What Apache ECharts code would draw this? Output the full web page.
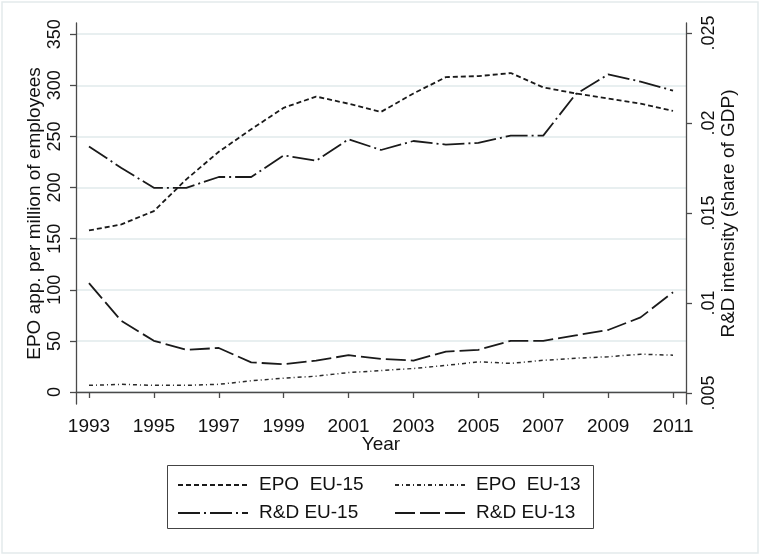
<!DOCTYPE html>
<html>
<head>
<meta charset="utf-8">
<script src="https://cdn.jsdelivr.net/npm/echarts@6/dist/echarts.min.js"></script>
<style>
  html, body { margin: 0; padding: 0; background: #fff; }
  #chart { width: 760px; height: 554px; }
</style>
</head>
<body>
<div id="chart"></div>
<script>
// data
const years = [1993, 1994, 1995, 1996, 1997, 1998, 1999, 2000, 2001, 2002,
               2003, 2004, 2005, 2006, 2007, 2008, 2009, 2010, 2011];
const epoEU15 = [158, 164, 177, 208, 235, 257, 278, 289, 282, 274,
                 292, 308, 309, 312, 298, 292, 287, 282, 275];
const epoEU13 = [6.5, 7.5, 6.5, 6.5, 7.5, 11, 13.5, 15.5, 19, 21,
                 23, 26, 29.5, 28, 31, 33, 34.5, 37, 36];
const rdEU15 = [0.0187, 0.0175, 0.0164, 0.0164, 0.0170, 0.0170, 0.0182, 0.0179, 0.0191, 0.0185,
                0.0190, 0.0188, 0.0189, 0.0193, 0.0193, 0.0216, 0.0227, 0.0223, 0.0218];
const rdEU13 = [0.0111, 0.0090, 0.0079, 0.0074, 0.0075, 0.0067, 0.0066, 0.0068, 0.0071, 0.0069,
                0.0068, 0.0073, 0.0074, 0.0079, 0.0079, 0.0082, 0.0085, 0.0092, 0.0106];

const yearTicks = [1993, 1995, 1997, 1999, 2001, 2003, 2005, 2007, 2009, 2011];
const leftTicks = [0, 50, 100, 150, 200, 250, 300, 350];
const leftGrid = [0, 50, 100, 150, 200, 250, 300];
const rightTicks = [0.005, 0.01, 0.015, 0.02, 0.025];

const FONT = '"Liberation Sans", Arial, sans-serif';
const INK = '#111';
const AXIS = '#4a4a4a';

function pairs(vals) {
    return years.map((y, i) => [y, vals[i]]);
}

function lineSeries(name, vals, axis, dash, width, color) {
    return {
        name: name,
        type: 'line',
        yAxisIndex: axis,
        data: pairs(vals),
        symbol: 'none',
        lineStyle: { color: color, width: width, type: dash, cap: 'butt' },
        itemStyle: { color: color }
    };
}

// one legend per row, the box round both is drawn as a graphic
function legendRow(names, top) {
    return {
        data: names,
        left: 177,
        top: top,
        orient: 'horizontal',
        itemWidth: 70,
        itemHeight: 20,
        itemGap: 25,
        padding: 0,
        itemStyle: { color: 'rgba(0,0,0,0)', borderWidth: 0 },
        textStyle: { fontSize: 19, color: INK, fontFamily: FONT, width: 110, lineHeight: 20,
                     padding: [0, 0, 0, 6] }
    };
}

const chart = echarts.init(document.getElementById('chart'));

chart.setOption({
    animation: false,
    backgroundColor: '#fff',
    textStyle: { fontFamily: FONT, color: INK },
    graphic: [{
        type: 'rect',
        shape: { x: 2, y: 2, width: 756, height: 551 },
        style: { fill: 'none', stroke: '#e4eaec', lineWidth: 1.5 },
        silent: true, z: -1
    }, {
        type: 'rect',
        shape: { x: 167.5, y: 465.5, width: 426, height: 63 },
        style: { fill: '#fff', stroke: '#444', lineWidth: 1 },
        silent: true, z: 0
    }],
    grid: { left: 76, right: 74, top: 23, bottom: 150 },
    legend: [
        legendRow(['EPO  EU-15', 'EPO  EU-13'], 475),
        legendRow(['R&D EU-15', 'R&D EU-13'], 503)
    ],
    xAxis: {
        type: 'value',
        min: 1992.6,
        max: 2011.4,
        name: 'Year',
        nameLocation: 'middle',
        nameGap: 31,
        nameMoveOverlap: false,
        nameTextStyle: { fontSize: 19, color: INK },
        axisLine: { show: true, lineStyle: { color: AXIS, width: 1.3 } },
        axisTick: { show: true, length: 6, customValues: yearTicks, lineStyle: { color: AXIS, width: 1.3 } },
        axisLabel: { customValues: yearTicks, fontSize: 19, color: INK, margin: 13,
                     formatter: v => String(v) },
        splitLine: { show: false }
    },
    yAxis: [{
        type: 'value',
        position: 'left',
        min: -11.74,
        max: 360.95,
        name: 'EPO app. per million of employees',
        nameLocation: 'middle',
        nameGap: 32,
        nameMoveOverlap: false,
        nameTextStyle: { fontSize: 19, color: INK },
        axisLine: { show: true, lineStyle: { color: AXIS, width: 1.3 } },
        axisTick: { show: true, length: 6, customValues: leftTicks, lineStyle: { color: AXIS, width: 1.3 } },
        axisLabel: { customValues: leftTicks, fontSize: 18, color: INK, rotate: 90, margin: 12,
                     formatter: v => String(v) },
        splitLine: { show: true, customValues: leftGrid, lineStyle: { color: '#e8eff0', width: 2 } }
    }, {
        type: 'value',
        position: 'right',
        min: 0.004389,
        max: 0.025556,
        name: 'R&D intensity (share of GDP)',
        nameLocation: 'middle',
        nameGap: 33,
        nameMoveOverlap: false,
        nameTextStyle: { fontSize: 19, color: INK },
        axisLine: { show: true, lineStyle: { color: AXIS, width: 1.3 } },
        axisTick: { show: true, length: 6, customValues: rightTicks, lineStyle: { color: AXIS, width: 1.3 } },
        axisLabel: { customValues: rightTicks, fontSize: 18, color: INK, rotate: 90, margin: 14,
                     formatter: v => String(v).replace(/^0\./, '.') },
        splitLine: { show: false }
    }],
    series: [
        lineSeries('EPO  EU-15', epoEU15, 0, [5, 3], 1.8, '#1a1a1a'),
        lineSeries('EPO  EU-13', epoEU13, 0, [4, 3, 1, 3], 1.5, '#2a2a2a'),
        lineSeries('R&D EU-15', rdEU15, 1, [22, 4, 2, 4], 1.8, '#1a1a1a'),
        lineSeries('R&D EU-13', rdEU13, 1, [20, 5], 1.8, '#1a1a1a')
    ]
});

window.addEventListener('resize', function() {
    chart.resize();
});
</script>
</body>
</html>
